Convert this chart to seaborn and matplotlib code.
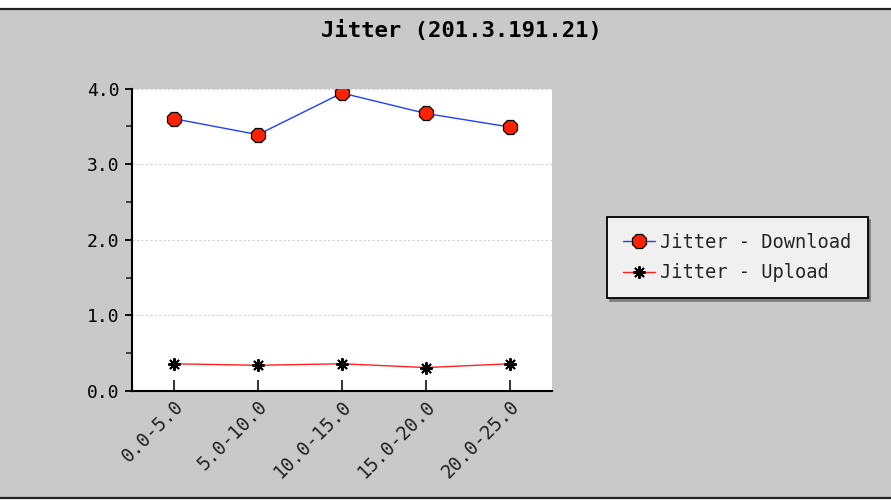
import pandas as pd
import matplotlib
matplotlib.use("Agg")
import matplotlib.pyplot as plt
import seaborn as sns
from matplotlib.patches import Rectangle
from matplotlib.lines import Line2D
from matplotlib.ticker import MultipleLocator

# data
intervals = ["0.0-5.0", "5.0-10.0", "10.0-15.0", "15.0-20.0", "20.0-25.0"]
jitter_download = [3.60, 3.39, 3.94, 3.67, 3.49]
jitter_upload = [0.36, 0.34, 0.36, 0.31, 0.36]
title = "Jitter (201.3.191.21)"

sns.set_style("ticks")
plt.rcParams['font.family'] = ['DejaVu Sans Mono', 'DejaVu Sans']

df = pd.DataFrame({"Interval": intervals,
                   "Download": jitter_download,
                   "Upload": jitter_upload})

fig = plt.figure(figsize=(8.91, 5.0), dpi=100, facecolor="white")

# gray panel with dark top / bottom rules
fig.patches.append(Rectangle((0, 3 / 500), 1, 488 / 500, transform=fig.transFigure,
                             facecolor="#c9c9c9", edgecolor="none", zorder=-10))
fig.lines.append(Line2D([0, 1], [1 - 8.5 / 500] * 2, transform=fig.transFigure,
                        color="#222222", linewidth=1.6))
fig.lines.append(Line2D([0, 1], [1 - 497.5 / 500] * 2, transform=fig.transFigure,
                        color="#222222", linewidth=1.6))

ax = fig.add_axes([132 / 891, 1 - 391 / 500, 420 / 891, 302.5 / 500])
ax.set_facecolor("white")

sns.lineplot(data=df, x="Interval", y="Download", ax=ax, color="#1f3fff",
             linewidth=1.0, marker="8", markersize=11,
             markerfacecolor="#ff2200", markeredgecolor="black",
             markeredgewidth=0.9, label="Jitter - Download")
sns.lineplot(data=df, x="Interval", y="Upload", ax=ax, color="#ff2020",
             linewidth=1.0, marker=(8, 2, 0), markersize=9,
             markeredgecolor="black", markeredgewidth=1.4,
             label="Jitter - Upload")

ax.set_xlim(-0.5, 4.5)
ax.set_ylim(0, 4.0)
ax.yaxis.set_major_locator(MultipleLocator(1.0))
ax.yaxis.set_minor_locator(MultipleLocator(0.5))
ax.set_yticklabels([f"{v:.1f}" for v in ax.get_yticks()])
ax.grid(axis="y", which="major", color="#d0d0d0", linestyle=(0, (2, 2)), linewidth=0.8)
ax.set_axisbelow(True)

for side in ["top", "right"]:
    ax.spines[side].set_visible(False)
for side in ["left", "bottom"]:
    ax.spines[side].set_color("black")
    ax.spines[side].set_linewidth(1.5)

ax.tick_params(axis="y", which="major", direction="out", length=5, width=1.3,
               labelsize=13, pad=4, colors="black")
ax.tick_params(axis="y", which="minor", direction="out", length=4, width=1.2)
ax.tick_params(axis="x", direction="in", length=8, width=1.3, labelsize=13.5,
               pad=4, colors="#222222")
plt.setp(ax.get_xticklabels(), rotation=45, ha="right", rotation_mode="anchor")
ax.set_xlabel("")
ax.set_ylabel("")

ax.legend_.remove()
handles, labels = ax.get_legend_handles_labels()
leg = fig.legend(handles, labels, loc="upper left", bbox_to_anchor=(607 / 891, 1 - 217 / 500),
                 borderaxespad=0, fontsize=13.5, frameon=True, fancybox=False,
                 handlelength=1.7, handletextpad=0.3,
                 borderpad=0.85, labelspacing=0.6,
                 shadow={"color": "#7a7a7a", "alpha": 0.9})
leg.get_frame().set_facecolor("#f0f0f0")
leg.get_frame().set_edgecolor("black")
leg.get_frame().set_linewidth(1.3)
leg.get_frame().set_alpha(1)

fig.text(461 / 891, 1 - 31 / 500, title, ha="center", va="center",
         fontsize=16, fontweight="bold", color="black")

fig.savefig("out.png", dpi=100, facecolor=fig.get_facecolor())
